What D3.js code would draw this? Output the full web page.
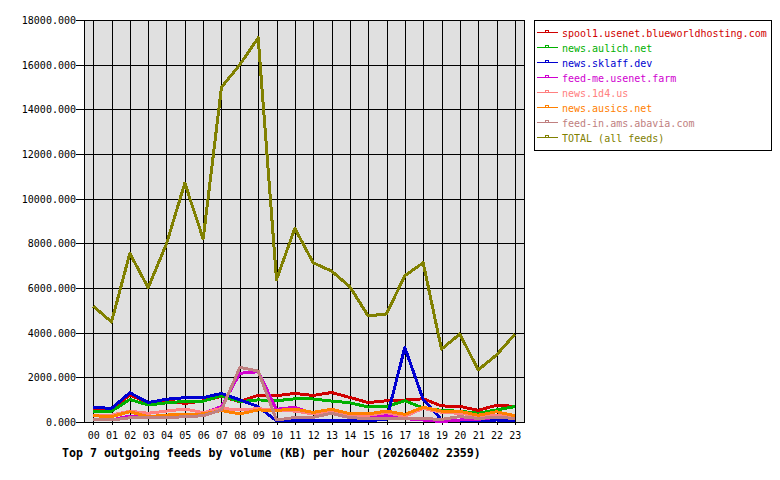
<!DOCTYPE html>
<html lang="en">
<head>
    <meta charset="UTF-8">
    <title>Top 7 outgoing feeds</title>
    <script src="https://d3js.org/d3.v7.min.js"></script>
    <style>
        body { margin: 0; background: #fff; }
        text { font-family: "DejaVu Sans Mono", "Liberation Mono", monospace; font-size: 10px; }
        .grid line { stroke: #000; stroke-width: 1px; shape-rendering: crispEdges; }
        .feed { fill: none; stroke-width: 3px; stroke-linejoin: round; shape-rendering: crispEdges; }
        .title { font-size: 11.6px; font-weight: bold; }
    </style>
</head>
<body>
    <svg id="chart" width="780" height="480"></svg>

    <script>
        // hour labels
        const hours = ["00","01","02","03","04","05","06","07","08","09","10","11",
                       "12","13","14","15","16","17","18","19","20","21","22","23"];
        const yTicks = [0, 2000, 4000, 6000, 8000, 10000, 12000, 14000, 16000, 18000];

        // KB per hour
        const spool1 = [620, 600, 1210, 860, 950, 830, 950, 1150, 910, 1200, 1180, 1280, 1190, 1320, 1100, 870, 950, 980, 1040, 720, 700, 520, 750, 700];
        const aulich = [480, 480, 1010, 760, 860, 920, 930, 1180, 910, 990, 950, 1040, 1030, 940, 860, 670, 690, 950, 630, 520, 480, 390, 540, 690];
        const sklaff = [660, 610, 1310, 870, 1020, 1090, 1090, 1280, 990, 690, 50, 60, 50, 60, 50, 60, 120, 3340, 1010, 100, 60, 60, 90, 60];
        const feedme = [120, 90, 270, 180, 270, 310, 390, 690, 2180, 2250, 570, 660, 360, 540, 310, 270, 280, 150, 90, 20, 90, 120, 210, 210];
        const news1d4 = [310, 310, 480, 390, 490, 580, 420, 610, 540, 600, 520, 490, 360, 450, 300, 300, 420, 250, 610, 430, 390, 270, 310, 240];
        const ausics = [280, 240, 460, 240, 310, 340, 360, 510, 360, 540, 520, 580, 430, 570, 370, 360, 490, 340, 660, 490, 480, 300, 460, 280];
        const feedin = [130, 90, 190, 190, 190, 240, 280, 540, 2450, 2280, 90, 200, 210, 390, 190, 160, 160, 150, 150, 120, 240, 160, 210, 160];
        const total = [5190, 4480, 7550, 6010, 7980, 10700, 8200, 14990, 16000, 17200, 6380, 8670, 7130, 6760, 6060, 4750, 4840, 6550, 7130, 3260, 3940, 2330, 3000, 3930];

        const feedNames = ["spool1.usenet.blueworldhosting.com", "news.aulich.net", "news.sklaff.dev",
                           "feed-me.usenet.farm", "news.1d4.us", "news.ausics.net",
                           "feed-in.ams.abavia.com", "TOTAL (all feeds)"];
        const feedColors = ["#d00000", "#00b000", "#0000d0", "#d000d0", "#ff8080", "#ff8000", "#c08080", "#808000"];
        const feedValues = [spool1, aulich, sklaff, feedme, news1d4, ausics, feedin, total];

        const svg = d3.select("#chart");
        const plot = { left: 84, top: 20, right: 524, bottom: 422 };

        const x = d3.scaleBand().domain(hours).range([plot.left, plot.right]);
        const y = d3.scaleLinear().domain([0, 18000]).range([plot.bottom, plot.top]);
        const cx = h => x(h) + x.bandwidth() / 2;

        // plot background
        svg.append("rect")
            .attr("x", plot.left).attr("y", plot.top)
            .attr("width", plot.right - plot.left).attr("height", plot.bottom - plot.top)
            .attr("fill", "#e0e0e0").attr("stroke", "#000")
            .attr("shape-rendering", "crispEdges");

        const grid = svg.append("g").attr("class", "grid");
        grid.selectAll(".v").data(hours).enter().append("line")
            .attr("x1", d => Math.round(cx(d)) + 0.5).attr("x2", d => Math.round(cx(d)) + 0.5)
            .attr("y1", plot.top).attr("y2", plot.bottom + 3);
        grid.selectAll(".h").data(yTicks).enter().append("line")
            .attr("x1", plot.left - 8).attr("x2", plot.right)
            .attr("y1", d => Math.round(y(d)) + 0.5).attr("y2", d => Math.round(y(d)) + 0.5);

        // y labels
        svg.append("g").selectAll("text").data(yTicks).enter().append("text")
            .attr("x", 76).attr("y", d => y(d) + 4)
            .attr("text-anchor", "end")
            .text(d => d3.format(".3f")(d));

        // x labels
        svg.append("g").selectAll("text").data(hours).enter().append("text")
            .attr("x", d => cx(d) + 0.5).attr("y", 438.5)
            .attr("text-anchor", "middle")
            .text(d => d);

        // feed lines
        const line = d3.line()
            .x((d, i) => cx(hours[i]))
            .y(d => y(d));

        svg.append("g").selectAll("path").data(feedValues).enter().append("path")
            .attr("class", "feed")
            .attr("stroke", (d, i) => feedColors[i])
            .attr("d", line);

        // title
        svg.append("text")
            .attr("class", "title")
            .attr("x", 62).attr("y", 456.5)
            .text("Top 7 outgoing feeds by volume (KB) per hour (20260402 2359)");

        // legend
        const legend = svg.append("g");
        legend.append("rect")
            .attr("x", 534.5).attr("y", 20.5).attr("width", 237).attr("height", 130)
            .attr("fill", "#fff").attr("stroke", "#000");

        const item = legend.selectAll(".item").data(feedNames).enter().append("g")
            .attr("transform", (d, i) => `translate(0, ${32.5 + i * 15})`);
        item.append("line")
            .attr("x1", 537).attr("x2", 558).attr("y1", 0).attr("y2", 0)
            .attr("stroke", (d, i) => feedColors[i]).attr("stroke-width", 1)
            .attr("shape-rendering", "crispEdges");
        item.append("rect")
            .attr("x", 545.5).attr("y", -2.5).attr("width", 3).attr("height", 2)
            .attr("fill", "none").attr("stroke", (d, i) => feedColors[i])
            .attr("shape-rendering", "crispEdges");
        item.append("text")
            .attr("x", 562).attr("y", 4)
            .attr("fill", (d, i) => feedColors[i])
            .text(d => d);
    </script>
</body>
</html>
